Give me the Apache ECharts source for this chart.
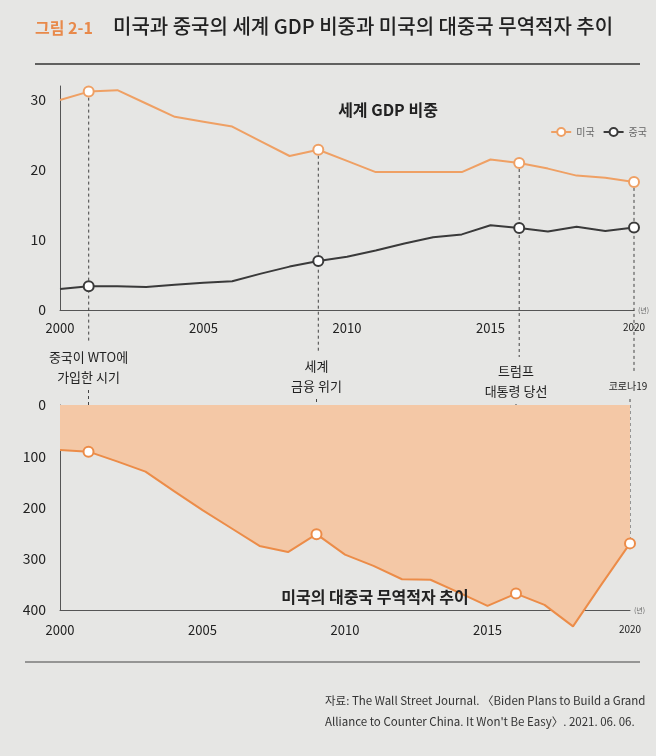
<!DOCTYPE html>
<html>
<head>
<meta charset="utf-8">
<title>그림 2-1</title>
<script src="https://cdn.jsdelivr.net/npm/echarts@6/dist/echarts.min.js"></script>
<style>
html, body { margin: 0; padding: 0; background: #e6e6e4; }
#chart { width: 656px; height: 756px; }
</style>
</head>
<body>
<div id="chart"></div>
<script>
// 데이터
var years = ['2000', '2001', '2002', '2003', '2004', '2005', '2006', '2007', '2008', '2009', '2010',
             '2011', '2012', '2013', '2014', '2015', '2016', '2017', '2018', '2019', '2020'];
var usShare = [30.0, 31.2, 31.4, 29.5, 27.6, 26.9, 26.2, 24.1, 22.0, 22.9, 21.3,
               19.7, 19.7, 19.7, 19.7, 21.5, 21.0, 20.2, 19.2, 18.9, 18.3];
var chinaShare = [3.0, 3.4, 3.4, 3.3, 3.6, 3.9, 4.1, 5.2, 6.2, 7.0, 7.6,
                  8.5, 9.5, 10.4, 10.8, 12.1, 11.7, 11.2, 11.9, 11.3, 11.8];
var tradeDeficit = [88, 91, 110, 130, 168, 205, 240, 275, 287, 252, 292,
                    314, 340, 341, 366, 392, 368, 390, 432, 350, 270];
var eventYears = ['2001', '2009', '2016', '2020'];
var eventLabels = ['중국이 WTO에\n가입한 시기', '세계\n금융 위기', '트럼프\n대통령 당선', '코로나19'];
var sourceLines = ['자료: The Wall Street Journal. 〈Biden Plans to Build a Grand',
                   'Alliance to Counter China. It Won\'t Be Easy〉. 2021. 06. 06.'];

var FONT = 'Noto Sans CJK KR';
var ORANGE = '#ec8c48';

// 사건 연도에만 동그라미 표시
function withMarkers(values) {
    return values.map(function (v, i) {
        if (eventYears.indexOf(years[i]) >= 0) return { value: v };
        return { value: v, symbol: 'none' };
    });
}

function yearLabel(v) {
    return v === '2020' ? '{s|' + v + '}' : v;
}

var chartDom = document.getElementById('chart');
var myChart = echarts.init(chartDom);

var option = {
    backgroundColor: '#e6e6e4',
    animation: false,
    textStyle: { fontFamily: FONT },
    legend: {
        data: ['미국', '중국'],
        right: 4,
        top: 122,
        itemWidth: 20,
        itemHeight: 10,
        itemGap: 8,
        textStyle: { fontSize: 10, color: '#666' }
    },
    grid: [
        { left: 60, right: 22, top: 86, height: 224 },
        { left: 60, right: 26, top: 405, height: 205 }
    ],
    xAxis: [
        {
            gridIndex: 0, type: 'category', data: years, boundaryGap: false,
            axisLine: { lineStyle: { color: '#555', width: 1 } },
            axisTick: { show: false },
            axisLabel: { interval: 4, margin: 12, fontSize: 13, color: '#222', formatter: yearLabel,
                         rich: { s: { fontSize: 10, color: '#222' } } },
            name: '(년)', nameLocation: 'end', nameGap: 4,
            nameTextStyle: { fontSize: 7, color: '#666', padding: [14, 0, 0, 0] }
        },
        {
            gridIndex: 1, type: 'category', data: years, boundaryGap: false,
            axisLine: { onZero: false, lineStyle: { color: '#555', width: 1 } },
            axisTick: { show: false },
            axisLabel: { interval: 4, margin: 14, fontSize: 13, color: '#222', formatter: yearLabel,
                         rich: { s: { fontSize: 10, color: '#222' } } },
            name: '(년)', nameLocation: 'end', nameGap: 4,
            nameTextStyle: { fontSize: 7, color: '#666', padding: [0, 0, 6, 0] }
        }
    ],
    yAxis: [
        {
            gridIndex: 0, type: 'value', min: 0, max: 32, interval: 10,
            splitLine: { show: false },
            axisLine: { show: true, lineStyle: { color: '#555', width: 1 } },
            axisTick: { show: false },
            axisLabel: { fontSize: 14, color: '#222', margin: 14,
                         formatter: function (v) { return v % 10 === 0 ? String(v) : ''; } }
        },
        {
            gridIndex: 1, type: 'value', min: 0, max: 400, interval: 100, inverse: true,
            splitLine: { show: false },
            axisLine: { show: true, lineStyle: { color: '#555', width: 1 } },
            axisTick: { show: false },
            axisLabel: { fontSize: 14, color: '#222', margin: 14 }
        }
    ],
    series: [
        {
            name: '미국', type: 'line', xAxisIndex: 0, yAxisIndex: 0,
            data: withMarkers(usShare), clip: false, z: 3,
            symbol: 'emptyCircle', symbolSize: 10, showAllSymbol: true,
            lineStyle: { color: '#efa064', width: 2 },
            itemStyle: { color: '#efa064', borderWidth: 1.5 }
        },
        {
            name: '중국', type: 'line', xAxisIndex: 0, yAxisIndex: 0,
            data: withMarkers(chinaShare), clip: false, z: 3,
            symbol: 'emptyCircle', symbolSize: 10, showAllSymbol: true,
            lineStyle: { color: '#3a3a3a', width: 2 },
            itemStyle: { color: '#3a3a3a', borderWidth: 1.5 }
        },
        {
            name: '무역적자', type: 'line', xAxisIndex: 1, yAxisIndex: 1,
            data: withMarkers(tradeDeficit), clip: false, z: 3,
            symbol: 'emptyCircle', symbolSize: 10, showAllSymbol: true,
            lineStyle: { color: ORANGE, width: 2 },
            itemStyle: { color: ORANGE, borderWidth: 1.5 },
            areaStyle: { color: '#f4c8a6', opacity: 1 }
        }
    ]
};

myChart.setOption(option);

// 제목, 부제, 출처 등 고정 텍스트
var graphics = [
    { type: 'text', left: 35, top: 20, z: 10,
      style: { text: '그림 2-1', fill: '#e8894a', font: 'bold 16px ' + FONT } },
    { type: 'text', left: 113, top: 16, z: 10,
      style: { text: '미국과 중국의 세계 GDP 비중과 미국의 대중국 무역적자 추이', fill: '#222', font: '500 20px ' + FONT } },
    { type: 'line', z: 10, shape: { x1: 35, y1: 64, x2: 640, y2: 64 },
      style: { stroke: '#333', lineWidth: 1.5 } },
    { type: 'text', z: 10, x: 388, y: 110,
      style: { text: '세계 GDP 비중', fill: '#222', font: 'bold 16px ' + FONT, align: 'center', verticalAlign: 'middle' } },
    { type: 'text', z: 10, x: 375, y: 597,
      style: { text: '미국의 대중국 무역적자 추이', fill: '#222', font: 'bold 16px ' + FONT, align: 'center', verticalAlign: 'middle' } },
    { type: 'line', z: 10, shape: { x1: 25, y1: 662, x2: 640, y2: 662 },
      style: { stroke: '#444', lineWidth: 1.2 } },
    { type: 'text', z: 10, x: 325, y: 690,
      style: { text: sourceLines.join('\n'), fill: '#333', font: '11.5px ' + FONT, lineHeight: 21 } }
];

// 사건 주석과 점선: 축 좌표에서 위치 계산
var labelTops = [347, 356, 361, 376];
var LH = 20;
eventYears.forEach(function (yr, k) {
    var i = years.indexOf(yr);
    var pUs = myChart.convertToPixel({ gridIndex: 0 }, [i, usShare[i]]);
    var pTd = myChart.convertToPixel({ gridIndex: 1 }, [i, tradeDeficit[i]]);
    var small = yr === '2020';
    var nLines = eventLabels[k].split('\n').length;
    var labelBottom = labelTops[k] + nLines * LH;
    graphics.push({
        type: 'line', z: 1,
        shape: { x1: pUs[0], y1: pUs[1], x2: pUs[0], y2: labelTops[k] - 4 },
        style: { stroke: '#444', lineWidth: 1, lineDash: [3, 3] }
    });
    graphics.push({
        type: 'line', z: 1,
        shape: { x1: pTd[0], y1: labelBottom + 3, x2: pTd[0], y2: pTd[1] },
        style: { stroke: '#444', lineWidth: 1, lineDash: [3, 3] }
    });
    graphics.push({
        type: 'text', z: 10, x: small ? pTd[0] - 2 : pTd[0], y: labelTops[k],
        style: { text: eventLabels[k], fill: '#222', font: (small ? '10px ' : '13px ') + FONT,
                 align: 'center', verticalAlign: 'top', lineHeight: LH }
    });
});

myChart.setOption({ graphic: graphics });

window.onresize = function () {
    myChart.resize();
};
</script>
</body>
</html>
